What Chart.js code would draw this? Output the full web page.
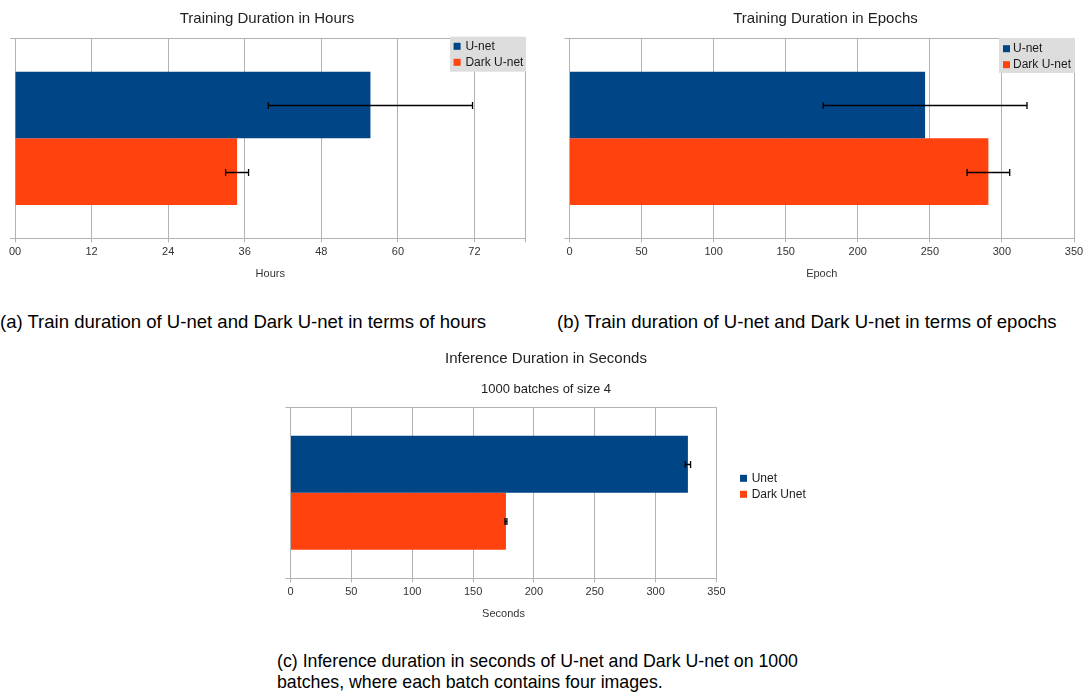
<!DOCTYPE html>
<html>
<head>
<meta charset="utf-8">
<script src="https://cdn.jsdelivr.net/npm/chart.js@4.4.1/dist/chart.umd.min.js"></script>
<style>
html,body{margin:0;padding:0;background:#fff;width:1088px;height:692px;overflow:hidden;position:relative}
canvas{position:absolute}
.cap{position:absolute;font-family:'Liberation Sans',Arial,sans-serif;font-size:18.55px;line-height:21px;color:#000;white-space:nowrap}
.capc{font-size:17.75px}
</style>
</head>
<body>
<canvas id="cHours" width="534" height="290" style="left:0px;top:0px"></canvas>
<canvas id="cEpochs" width="525" height="290" style="left:563px;top:0px"></canvas>
<canvas id="cSeconds" width="532" height="290" style="left:280px;top:340px"></canvas>
<div class="cap" style="left:0px;top:310.5px">(a) Train duration of U-net and Dark U-net in terms of hours</div>
<div class="cap" style="left:557px;top:310.5px">(b) Train duration of U-net and Dark U-net in terms of epochs</div>
<div class="cap capc" style="left:277px;top:650.5px">(c) Inference duration in seconds of U-net and Dark U-net on 1000<br>batches, where each batch contains four images.</div>
<script>
// ---------------- data ----------------
const categories = [''];
const trainNames = ['U-net', 'Dark U-net'];
const inferNames = ['Unet', 'Dark Unet'];

const hoursMean = [55.7, 34.8];
const hoursErr = [16.0, 1.8];
const epochsMean = [246.7, 290.6];
const epochsErr = [70.7, 14.8];
const secondsMean = [326.5, 177];
const secondsErr = [2.2, 0.8];

const hourTicks = [0, 12, 24, 36, 48, 60, 72];
const hourTickLabels = ['00', '12', '24', '36', '48', '60', '72'];
const hourMax = 80;
const epochTicks = [0, 50, 100, 150, 200, 250, 300, 350];
const epochTickLabels = ['0', '50', '100', '150', '200', '250', '300', '350'];
const epochMax = 350;
const secondTicks = [0, 50, 100, 150, 200, 250, 300, 350];
const secondTickLabels = ['0', '50', '100', '150', '200', '250', '300', '350'];
const secondMax = 350;

// ---------------- styles ----------------
const COLORS = ['#004586', '#ff420e'];
const GRID = '#b3b3b3';
const FONT = "'Liberation Sans', Arial, sans-serif";
Chart.defaults.font.family = FONT;

const errorBarsPlugin = {
  id: 'errorBars',
  afterDatasetsDraw(chart) {
    const ctx = chart.ctx;
    const xs = chart.scales.x;
    chart.data.datasets.forEach((ds, i) => {
      const meta = chart.getDatasetMeta(i);
      meta.data.forEach((bar, j) => {
        const v = ds.data[j], e = ds.errors[j];
        const x1 = xs.getPixelForValue(v - e);
        const x2 = xs.getPixelForValue(v + e);
        const y = Math.round(bar.y) + 0.5;
        ctx.save();
        ctx.strokeStyle = '#000';
        ctx.lineWidth = 1.3;
        ctx.beginPath();
        ctx.moveTo(x1, y); ctx.lineTo(x2, y);
        ctx.moveTo(x1, y - 3.5); ctx.lineTo(x1, y + 3.5);
        ctx.moveTo(x2, y - 3.5); ctx.lineTo(x2, y + 3.5);
        ctx.stroke();
        ctx.restore();
      });
    });
  }
};

const boxLegendPlugin = {
  id: 'boxLegend',
  afterDraw(chart, args, o) {
    const ctx = chart.ctx;
    const ca = chart.chartArea;
    const x0 = ca.right + o.dx, y0 = ca.top + o.dy;
    ctx.save();
    if (o.bg) {
      ctx.fillStyle = o.bg;
      ctx.fillRect(x0, y0, o.w, o.h);
    }
    ctx.font = '12px ' + FONT;
    ctx.textBaseline = 'middle';
    ctx.textAlign = 'left';
    chart.data.datasets.forEach((ds, i) => {
      const cy = y0 + o.firstY + i * o.gap;
      ctx.fillStyle = ds.backgroundColor;
      ctx.fillRect(x0 + o.swX, cy - 3.5, 7, 7);
      ctx.fillStyle = '#1a1a1a';
      ctx.fillText(ds.label, x0 + o.txX, cy);
    });
    ctx.restore();
  }
};

function buildChart(id, p) {
  return new Chart(document.getElementById(id), {
    type: 'bar',
    data: {
      labels: categories,
      datasets: p.names.map((n, i) => ({
        label: n,
        data: [p.values[i]],
        errors: [p.errors[i]],
        backgroundColor: COLORS[i],
        borderWidth: 0,
        categoryPercentage: 2 / 3,
        barPercentage: 1
      }))
    },
    options: {
      indexAxis: 'y',
      responsive: false,
      animation: false,
      layout: { padding: 0 },
      plugins: {
        legend: { display: false },
        tooltip: { enabled: false },
        title: {
          display: true, text: p.title, color: '#222',
          font: { size: 15, weight: 'normal' },
          padding: { top: 10, bottom: p.titleBottom }
        },
        subtitle: p.subtitle ? {
          display: true, text: p.subtitle, color: '#222',
          font: { size: 13, weight: 'normal' },
          padding: { top: 13.5, bottom: 10.2 }
        } : { display: false },
        boxLegend: p.legend
      },
      scales: {
        x: {
          type: 'linear', min: 0, max: p.max,
          grid: { color: GRID, tickLength: 4 },
          border: { color: GRID },
          ticks: {
            color: '#333', font: { size: 11 }, padding: 3, autoSkip: false, maxRotation: 0,
            callback: (v, i) => (p.tickLabels[i] !== undefined ? p.tickLabels[i] : '')
          },
          afterBuildTicks: s => {
            const vals = p.tickValues.slice();
            if (vals[vals.length - 1] < p.max) vals.push(p.max);
            s.ticks = vals.map(v => ({ value: v }));
          },
          title: {
            display: true, text: p.axisTitle, color: '#333',
            font: { size: 11 }, padding: { top: 0, bottom: 9.1 }
          },
          afterFit: s => { s.height = 51.7; }
        },
        y: {
          type: 'category',
          grid: { color: GRID, tickLength: 5, offset: true },
          border: { color: GRID },
          ticks: { display: false },
          afterFit: s => { s.width = p.leftW; }
        },
        yR: {
          type: 'category', position: 'right',
          grid: { display: false }, border: { display: false },
          ticks: { display: false },
          afterFit: s => { s.width = p.rightW; }
        }
      }
    },
    plugins: [errorBarsPlugin, boxLegendPlugin]
  });
}

buildChart('cHours', {
  names: trainNames, values: hoursMean, errors: hoursErr,
  title: 'Training Duration in Hours', titleBottom: 10.3,
  axisTitle: 'Hours', max: hourMax, tickValues: hourTicks, tickLabels: hourTickLabels,
  leftW: 15, rightW: 8.5,
  legend: { dx: -75.5, dy: -1.6, w: 76, h: 35, bg: '#dddddd', swX: 3.6, txX: 15.4, firstY: 9.6, gap: 16 }
});

buildChart('cEpochs', {
  names: trainNames, values: epochsMean, errors: epochsErr,
  title: 'Training Duration in Epochs', titleBottom: 10.3,
  axisTitle: 'Epoch', max: epochMax, tickValues: epochTicks, tickLabels: epochTickLabels,
  leftW: 6.5, rightW: 14,
  legend: { dx: -75, dy: -0.3, w: 76, h: 35, bg: '#dddddd', swX: 4, txX: 14, firstY: 10.7, gap: 16 }
});

buildChart('cSeconds', {
  names: inferNames, values: secondsMean, errors: secondsErr,
  title: 'Inference Duration in Seconds', titleBottom: 0,
  subtitle: '1000 batches of size 4',
  axisTitle: 'Seconds', max: secondMax, tickValues: secondTicks, tickLabels: secondTickLabels,
  leftW: 10.5, rightW: 95.5,
  legend: { dx: 23.5, dy: 0, w: 0, h: 0, bg: null, swX: 0, txX: 11.7, firstY: 71, gap: 16 }
});
</script>
</body>
</html>
